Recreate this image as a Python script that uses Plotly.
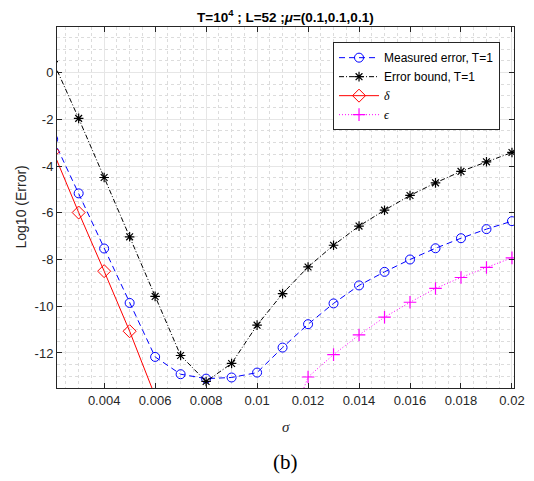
import plotly.graph_objects as go

sigma = [0.002, 0.003, 0.004, 0.005, 0.006, 0.007, 0.008, 0.009, 0.010, 0.011,
         0.012, 0.013, 0.014, 0.015, 0.016, 0.017, 0.018, 0.019, 0.020]
measured = [-2.85, -5.17, -7.53, -9.86, -12.17, -12.91, -13.1, -13.05, -12.84, -11.77,
            -10.77, -9.88, -9.11, -8.53, -8.0, -7.52, -7.09, -6.7, -6.36]
bound = [0.47, -1.96, -4.49, -7.03, -9.58, -12.11, -13.22, -12.45, -10.81, -9.46,
         -8.32, -7.39, -6.57, -5.89, -5.26, -4.72, -4.23, -3.82, -3.42]
sigma_delta = [0.002, 0.003, 0.004, 0.005, 0.006]
delta = [-3.38, -5.99, -8.5, -11.07, -13.85]
sigma_eps = [0.011, 0.012, 0.013, 0.014, 0.015, 0.016, 0.017, 0.018, 0.019, 0.020]
eps = [-15.9, -13.03, -12.07, -11.23, -10.47, -9.83, -9.24, -8.77, -8.34, -7.93]

x_ticks = [0.004, 0.006, 0.008, 0.010, 0.012, 0.014, 0.016, 0.018, 0.020]
x_ticklabels = ["0.004", "0.006", "0.008", "0.01", "0.012", "0.014", "0.016", "0.018", "0.02"]
y_ticks = [-12, -10, -8, -6, -4, -2, 0]
y_ticklabels = ["-12", "-10", "-8", "-6", "-4", "-2", "0"]

SERIF = "font-family:'Liberation Serif','DejaVu Serif',serif"

fig = go.Figure()
fig.add_trace(go.Scatter(
    x=sigma, y=measured, mode="lines+markers", name="Measured error, T=1",
    line=dict(color="#0000FF", width=1, dash="6px,4px"),
    marker=dict(symbol="circle-open", size=9, color="#0000FF", line=dict(width=1))))
fig.add_trace(go.Scatter(
    x=sigma, y=bound, mode="lines+markers", name="Error bound, T=1",
    line=dict(color="#000000", width=1, dash="5px,2px,1px,2px"),
    marker=dict(symbol="asterisk-open", size=8, color="#000000", line=dict(width=1.2, color="#000000"))))
fig.add_trace(go.Scatter(
    x=sigma_delta, y=delta, mode="lines+markers",
    name=f"<span style=\"{SERIF}\"><i>δ</i></span>",
    line=dict(color="#FF0000", width=1),
    marker=dict(symbol="diamond-open", size=10, color="#FF0000", line=dict(width=1))))
fig.add_trace(go.Scatter(
    x=sigma_eps, y=eps, mode="lines+markers",
    name=f"<span style=\"{SERIF}\"><i>ϵ</i></span>",
    line=dict(color="#FF00FF", width=1, dash="1px,2px"),
    marker=dict(symbol="cross-thin-open", size=9, color="#FF00FF", line=dict(width=1.2, color="#FF00FF"))))

axis_common = dict(
    showline=True, linecolor="#262626", linewidth=1, mirror="ticks",
    ticks="inside", ticklen=5, tickcolor="#262626",
    showgrid=True, gridcolor="#e6e6e6", gridwidth=1, zeroline=False,
    automargin=False,
    tickfont=dict(family="Liberation Sans, Arial", size=13, color="#262626"),
)
fig.update_xaxes(range=[0.00215, 0.02008], tickvals=x_ticks, ticktext=x_ticklabels,
                 minor=dict(dtick=0.0005, tick0=0.002, showgrid=True, gridcolor="#dcdcdc", griddash="dot", ticks=""),
                 **axis_common)
fig.update_yaxes(range=[-13.5, 1.95], tickvals=y_ticks, ticktext=y_ticklabels,
                 minor=dict(dtick=0.5, tick0=0, showgrid=True, gridcolor="#dcdcdc", griddash="dot", ticks=""),
                 **axis_common)

fig.update_layout(
    width=526, height=473,
    margin=dict(l=49, r=20, t=19, b=93),
    paper_bgcolor="white", plot_bgcolor="white",
    showlegend=True,
    legend=dict(x=0.604, y=0.958, xanchor="left", yanchor="top",
                bgcolor="white", bordercolor="#262626", borderwidth=1,
                font=dict(family="Liberation Sans, Arial", size=12, color="#000000"),
                tracegroupgap=0, itemwidth=40),
    annotations=[
        dict(text="<b>T=10<sup>4</sup> ; L=52 ;</b><b><i>μ</i></b><b>=(0.1,0.1,0.1)</b>",
             x=0.5, y=1.0, xref="paper", yref="paper", xanchor="center", yanchor="bottom", yshift=0,
             showarrow=False, font=dict(family="Liberation Sans, Arial", size=13.5, color="#000000")),
        dict(text="Log10 (Error)", x=(20 - 57) / 457.0, y=0.5, xref="paper", yref="paper",
             xanchor="center", yanchor="middle", textangle=-90, showarrow=False,
             font=dict(family="Liberation Sans, Arial", size=14, color="#262626")),
        dict(text="<i>σ</i>", x=0.5, y=-0.108, xref="paper", yref="paper", xanchor="center", yanchor="middle",
             showarrow=False, font=dict(family="Liberation Serif, DejaVu Serif", size=15, color="#262626")),
        dict(text="(b)", x=0.5, y=-0.205, xref="paper", yref="paper", xanchor="center", yanchor="middle",
             showarrow=False, font=dict(family="Liberation Serif, DejaVu Serif", size=21, color="#000000")),
    ],
)

fig.write_html("out.html")
